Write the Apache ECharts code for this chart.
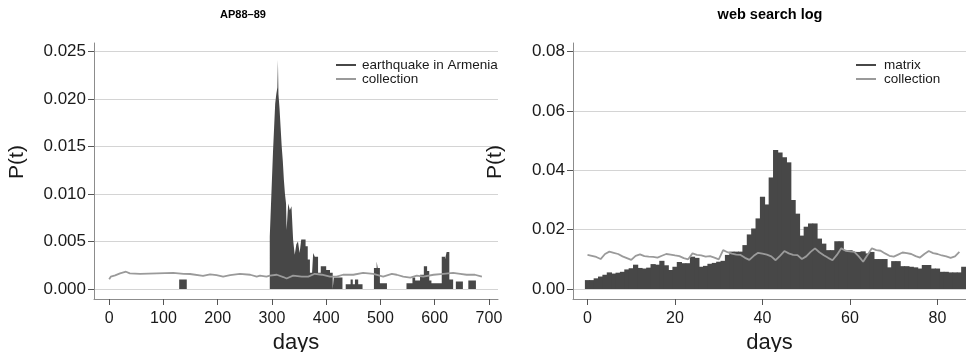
<!DOCTYPE html>
<html><head><meta charset="utf-8">
<script src="https://cdn.jsdelivr.net/npm/echarts@6/dist/echarts.min.js"></script>
<style>html,body{margin:0;padding:0;background:#fff}#c{width:966px;height:352px}</style>
</head><body><div id="c"></div>
<script>
// ---------- AP88-89 panel ----------
const apTitle = 'AP88–89';
const apXTicks = [0, 100, 200, 300, 400, 500, 600, 700];
const apYTicks = [0, 0.005, 0.010, 0.015, 0.020, 0.025];
// step histogram: [start day, P(t)] – value holds until next start day
const eqDays = [0,129,143,296,298,300,302,304,306,308,310,311,312,314,316,318,320,322,324,326,327,330,333,336,339,342,345,348,351,354,358,362,366,370,374,376,379,385,390,394,400,407,412,414,430,436,445,449,453,459,467,488,493,495,499,512,548,559,564,573,580,586,590,594,613,619,622,627,634,639,652,662,676];
const eqVals = [0,0.0010,0,0.0055,0.0085,0.0115,0.0145,0.0170,0.0195,0.0205,0.0212,0.0241,0.0205,0.0190,0.0170,0.0150,0.0135,0.0115,0.0100,0.0090,0.0062,0.0090,0.0083,0.0087,0.0052,0.0036,0.0047,0.0050,0.0038,0.0052,0.0052,0.0045,0.0031,0.0017,0.0015,0.0038,0.0034,0.0017,0.0024,0.0024,0.0020,0.0017,0,0.0012,0,0.0005,0.0010,0.0005,0.0010,0.0005,0,0.0022,0.0029,0.0022,0.0006,0,0.0006,0.0012,0.0009,0.0015,0.0024,0.0019,0.0009,0.0006,0.0034,0.0031,0.0039,0.0010,0,0.0008,0,0.0009,0];
const apCollDays = [0,3,11,20,31,38,57,88,118,137,149,173,186,198,210,223,241,260,272,278,290,296,309,321,327,339,355,367,379,392,407,419,431,450,468,487,505,521,530,542,555,567,579,598,616,634,647,659,674,687];
const apCollVals = [0.00102,0.0013,0.00144,0.00165,0.00182,0.00165,0.0016,0.00165,0.0017,0.0016,0.00158,0.00137,0.00155,0.00145,0.0013,0.00145,0.0016,0.0015,0.0013,0.0014,0.0013,0.0014,0.0015,0.00126,0.0011,0.0014,0.0013,0.0013,0.0016,0.0015,0.0013,0.0013,0.0015,0.0015,0.0017,0.0016,0.0013,0.0016,0.0015,0.0013,0.0012,0.0014,0.0013,0.0015,0.0016,0.0017,0.0016,0.0015,0.0015,0.0013];

// ---------- web search log panel ----------
const webTitle = 'web search log';
const webXTicks = [0, 20, 40, 60, 80];
const webYTicks = [0, 0.02, 0.04, 0.06, 0.08];
const matrixVals = [0.0030,0.0030,0.0036,0.0042,0.0048,0.0056,0.0052,0.0055,0.0058,0.0066,
 0.0070,0.0082,0.0071,0.0069,0.0072,0.0084,0.0082,0.0095,0.0080,0.0064,
 0.0075,0.0091,0.0087,0.0087,0.0109,0.0105,0.0075,0.0078,0.0085,0.0088,
 0.0092,0.0095,0.0115,0.0126,0.0126,0.0126,0.0148,0.0184,0.0204,0.0238,
 0.0311,0.0285,0.0376,0.0469,0.0460,0.0444,0.0427,0.0300,0.0254,0.0180,
 0.0210,0.0221,0.0221,0.0170,0.0153,0.0131,0.0131,0.0161,0.0161,0.0131,
 0.0131,0.0125,0.0125,0.0127,0.0120,0.0125,0.0101,0.0101,0.0101,0.0073,
 0.0094,0.0094,0.0077,0.0077,0.0075,0.0073,0.0069,0.0081,0.0081,0.0069,
 0.0069,0.0058,0.0058,0.0056,0.0056,0.0056,0.0075];
const webCollVals = [0.0115,0.0112,0.0108,0.0101,0.0118,0.0126,0.0122,0.0118,0.0110,0.0104,
 0.0098,0.0112,0.0117,0.0111,0.0109,0.0108,0.0106,0.0112,0.0118,0.0116,
 0.0113,0.0111,0.0104,0.0100,0.0120,0.0115,0.0113,0.0109,0.0111,0.0106,
 0.0100,0.0131,0.0124,0.0119,0.0116,0.0115,0.0105,0.0098,0.0112,0.0122,
 0.0119,0.0116,0.0110,0.0097,0.0112,0.0128,0.0120,0.0115,0.0114,0.0101,
 0.0110,0.0125,0.0137,0.0124,0.0114,0.0105,0.0097,0.0115,0.0137,0.0129,
 0.0127,0.0125,0.0110,0.0092,0.0115,0.0137,0.0131,0.0129,0.0120,0.0112,
 0.0109,0.0116,0.0123,0.0121,0.0118,0.0111,0.0106,0.0118,0.0128,0.0121,
 0.0118,0.0113,0.0110,0.0105,0.0110,0.0125];

const DARK = '#474747', GREY = '#9a9a9a', TXT = '#1a1a1a';
const FONT = 'Liberation Sans, Arial, Helvetica, sans-serif';
const zip = (a, b) => a.map((v, i) => [v, b[i]]);

function xAx(idx, min, max, ticks) {
  return {
    type: 'value', gridIndex: idx, min: min, max: max, name: 'days',
    nameLocation: 'middle', nameGap: 30,
    nameTextStyle: {fontSize: 22, color: TXT, fontFamily: FONT},
    axisLine: {show: true, onZero: false, lineStyle: {color: '#8c8c8c', width: 1}},
    axisTick: {show: true, length: 6, customValues: ticks, lineStyle: {color: '#555'}},
    axisLabel: {customValues: ticks, fontSize: 16, color: TXT, fontFamily: FONT, margin: 12},
    splitLine: {show: false}
  };
}
function yAx(idx, min, max, ticks, dec, gap) {
  return {
    type: 'value', gridIndex: idx, min: min, max: max, name: 'P(t)',
    nameLocation: 'middle', nameGap: gap, nameRotate: 90,
    nameTextStyle: {fontSize: 21, color: TXT, fontFamily: FONT, padding: [0, 0, 0, 18]},
    axisLine: {show: true, onZero: false, lineStyle: {color: '#8c8c8c', width: 1}},
    axisTick: {show: true, length: 6, customValues: ticks, lineStyle: {color: '#555'}},
    axisLabel: {customValues: ticks, fontSize: 17, color: TXT, fontFamily: FONT, margin: 8,
      formatter: v => Number(v).toFixed(dec)},
    splitLine: {show: true, lineStyle: {color: '#d4d4d4', width: 1}}
  };
}

const chart = echarts.init(document.getElementById('c'), null, {renderer: 'canvas'});
chart.setOption({
  animation: false,
  backgroundColor: '#fff',
  title: [
    {text: apTitle, left: 243, top: 9, padding: 0, textAlign: 'center',
     textStyle: {fontSize: 11, fontWeight: 'bold', color: '#000', fontFamily: FONT}},
    {text: webTitle, left: 770, top: 7, padding: 0, textAlign: 'center',
     textStyle: {fontSize: 14.5, fontWeight: 'bold', color: '#000', fontFamily: FONT}}
  ],
  legend: [
    {data: ['earthquake in Armenia', 'collection'], left: 336, top: 58, padding: 0, orient: 'vertical',
     itemGap: 0, itemWidth: 20, itemHeight: 2, icon: 'rect', selectedMode: false,
     textStyle: {fontSize: 13.5, color: TXT, fontFamily: FONT, padding: [0, 0, 0, 1]}},
    {data: ['matrix', 'collection'], left: 856, top: 58, padding: 0, orient: 'vertical',
     itemGap: 0, itemWidth: 20, itemHeight: 2, icon: 'rect', selectedMode: false,
     textStyle: {fontSize: 13.5, color: TXT, fontFamily: FONT, padding: [0, 0, 0, 3]}}
  ],
  grid: [
    {left: 94, right: 468, top: 43, bottom: 53, outerBoundsMode: 'none'},
    {left: 573, right: 0, top: 43, bottom: 53, outerBoundsMode: 'none'}
  ],
  xAxis: [
    xAx(0, -28.0, 716.7, apXTicks),
    xAx(1, -3.314, 86.514, webXTicks)
  ],
  yAxis: [
    yAx(0, -0.001053, 0.025895, apYTicks, 3, 66),
    yAx(1, -0.00337, 0.08293, webYTicks, 2, 67)
  ],
  series: [
    {name: 'earthquake in Armenia', type: 'line', xAxisIndex: 0, yAxisIndex: 0,
     data: zip(eqDays, eqVals), step: 'end', symbol: 'none',
     itemStyle: {color: DARK}, lineStyle: {color: DARK, width: 0},
     areaStyle: {color: DARK, opacity: 1}},
    {name: 'collection', type: 'line', xAxisIndex: 0, yAxisIndex: 0,
     data: zip(apCollDays, apCollVals), symbol: 'none',
     itemStyle: {color: GREY}, lineStyle: {color: GREY, width: 1.8}},
    {name: 'matrix', type: 'bar', xAxisIndex: 1, yAxisIndex: 1,
     data: matrixVals.map((v, i) => [i, v]), barWidth: 5.2,
     itemStyle: {color: DARK}},
    {name: 'collection', type: 'line', xAxisIndex: 1, yAxisIndex: 1,
     data: webCollVals.map((v, i) => [i, v]), symbol: 'none',
     itemStyle: {color: GREY}, lineStyle: {color: GREY, width: 1.8}}
  ]
});
</script>
</body></html>
